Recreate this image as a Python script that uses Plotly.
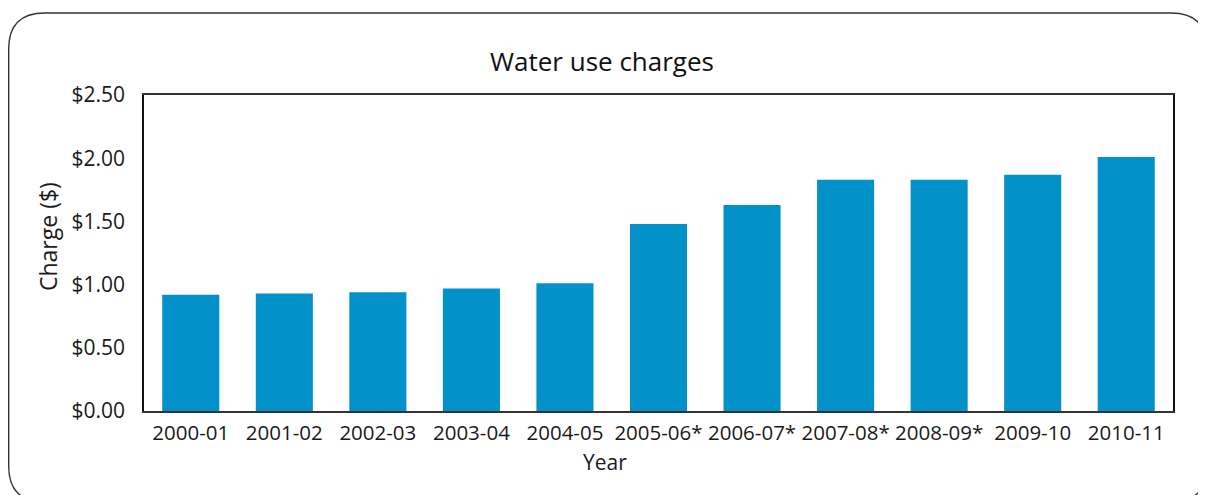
import plotly.graph_objects as go

years = ["2000-01", "2001-02", "2002-03", "2003-04", "2004-05", "2005-06*",
         "2006-07*", "2007-08*", "2008-09*", "2009-10", "2010-11"]
charges = [0.92, 0.93, 0.94, 0.97, 1.01, 1.48, 1.63, 1.83, 1.83, 1.87, 2.01]
y_ticks = [0, 0.5, 1.0, 1.5, 2.0, 2.5]
y_tick_text = ["$0.00", "$0.50", "$1.00", "$1.50", "$2.00", "$2.50"]

# The page body has an 8px margin, so the figure is laid out in figure pixels
# (page pixel minus 8).
W, H = 1198, 487
ML, MR, MT, MB = 136, 33, 87, 84
PW, PH = W - ML - MR, H - MT - MB

def px(x):
    return (x - ML) / PW

def py(y):
    return (H - MB - y) / PH

# rounded outer frame (figure pixels converted to paper)
L, T, R, B, r = 0.7, 5, 1199, 494, 36
pts = [
    ("M", [(L + r, T)]),
    ("L", [(R - r, T)]),
    ("Q", [(R, T), (R, T + r)]),
    ("L", [(R, B - r)]),
    ("Q", [(R, B), (R - r, B)]),
    ("L", [(L + r, B)]),
    ("Q", [(L, B), (L, B - r)]),
    ("L", [(L, T + r)]),
    ("Q", [(L, T), (L + r, T)]),
]
path = ""
for cmd, ps in pts:
    path += cmd + " " + " ".join(f"{px(a):.5f},{py(b):.5f}" for a, b in ps) + " "
path += "Z"

font = "Open Sans, Noto Sans, sans-serif"

fig = go.Figure(go.Bar(x=years, y=charges, marker=dict(color="#0391C9", line_width=0)))

fig.update_layout(
    width=W, height=H,
    margin=dict(l=ML, r=MR, t=MT, b=MB),
    paper_bgcolor="white", plot_bgcolor="white",
    bargap=0.39,
    showlegend=False,
    font=dict(family=font, color="#1a1a1a", size=21),
    title=dict(text="Water use charges", x=(602 - 8) / W, xanchor="center", y=1 - 54 / H, yanchor="middle",
               font=dict(size=26, family=font, color="#111")),
    shapes=[dict(type="path", path=path, xref="paper", yref="paper",
                 line=dict(color="#333", width=1.4), fillcolor="rgba(0,0,0,0)", layer="below")],
    annotations=[
        dict(text="Year", xref="paper", yref="paper", x=px(605 - 8), y=py(462 - 8),
             xanchor="center", yanchor="middle", showarrow=False, font=dict(size=21)),
        dict(text="Charge ($)", xref="paper", yref="paper", x=px(48 - 8), y=py(237 - 8),
             xanchor="center", yanchor="middle", textangle=-90, showarrow=False, font=dict(size=23)),
    ],
)
fig.update_xaxes(
    type="category",
    showline=True, linecolor="#333", linewidth=1.5, mirror=True,
    ticks="", ticklabelstandoff=3, tickfont=dict(size=20.5),
    showgrid=False,
)
fig.update_yaxes(
    range=[0, 2.5], tickvals=y_ticks, ticktext=y_tick_text,
    showline=True, linecolor="#111", linewidth=1.5, mirror=True,
    ticks="", ticklabelstandoff=13, tickfont=dict(size=21),
    showgrid=False, zeroline=False,
)

fig.write_html("out.html")
